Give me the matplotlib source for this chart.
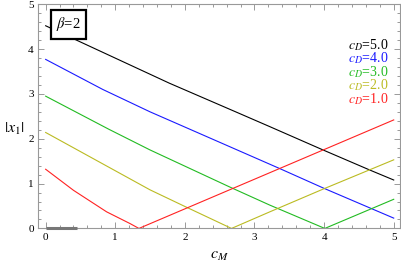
import matplotlib
matplotlib.use("Agg")
import matplotlib.pyplot as plt
from matplotlib.ticker import MultipleLocator

plt.rcParams['font.family'] = ['Liberation Serif', 'DejaVu Serif']
plt.rcParams['mathtext.fontset'] = 'stix'

# Data
labels = ["$c_D$=5.0", "$c_D$=4.0", "$c_D$=3.0", "$c_D$=2.0", "$c_D$=1.0"]
colors = ["#000000", "#1a1aff", "#22bb22", "#bbbb22", "#ff2222"]

x_black = [0, 0.47, 1.776, 2.73, 3.22, 3.97, 4.66, 5.0]
y_black = [4.52, 4.18, 3.24, 2.60, 2.27, 1.76, 1.30, 1.08]

x_blue = [0, 0.82, 1.5, 2.06, 3.37, 3.99, 5.0]
y_blue = [3.77, 3.10, 2.60, 2.22, 1.33, 0.90, 0.23]

x_green = [0, 0.91, 1.5, 2.65, 3.22, 4.01, 5.0]
y_green = [2.95, 2.21, 1.75, 0.92, 0.52, 0.0, 0.65]

x_yellow = [0, 1.5, 2.0, 2.67, 3.22, 3.99, 5.0]
y_yellow = [2.14, 0.86, 0.49, 0.0, 0.37, 0.88, 1.53]

x_red = [0, 0.40, 0.876, 1.21, 1.34, 5.0]
y_red = [1.32, 0.85, 0.37, 0.11, 0.0, 2.42]

series_x = [x_black, x_blue, x_green, x_yellow, x_red]
series_y = [y_black, y_blue, y_green, y_yellow, y_red]

# small gray segment on the axis near the origin
x_gray = [0, 0.45]
y_gray = [0, 0]

fig = plt.figure(figsize=(4.02, 2.65), dpi=100)
ax = fig.add_axes([0.0945, 0.138, 0.9005, 0.846])

for xs, ys, c in zip(series_x, series_y, colors):
    ax.plot(xs, ys, color=c, lw=0.8, solid_joinstyle='miter')

ax.plot(x_gray, y_gray, color='#777777', lw=2.2, solid_capstyle='butt', clip_on=False, zorder=5)

ax.set_xlim(-0.11, 5.09)
ax.set_ylim(0, 5)

ax.xaxis.set_major_locator(MultipleLocator(1))
ax.xaxis.set_minor_locator(MultipleLocator(0.2))
ax.yaxis.set_major_locator(MultipleLocator(1))
ax.yaxis.set_minor_locator(MultipleLocator(0.2))

for s in ax.spines.values():
    s.set_color('#999999')
    s.set_linewidth(0.8)

ax.tick_params(which='both', direction='in', top=True, right=True, color='#999999', width=0.7)
ax.tick_params(which='major', length=4, labelsize=8, pad=3)
ax.tick_params(which='minor', length=2)

ax.set_xlabel("$c_M$", fontsize=11.5, labelpad=4)
fig.text(0.035, 0.515, "$|x_1|$", fontsize=11.5, ha='center', va='center')

# legend texts
ys_text = [45, 58.3, 71.7, 85, 99]
for lab, c, yp in zip(labels, colors, ys_text):
    fig.text(388 / 402, 1 - yp / 265, lab, color=c, fontsize=10, ha='right', va='center')

ax.text(0.15, 4.55, r"$\beta$=2", fontsize=10.5, ha='left', va='center', zorder=10,
        bbox=dict(boxstyle='square,pad=0.35', fc='white', ec='black', lw=1.6))

fig.savefig("out.png", dpi=100)
